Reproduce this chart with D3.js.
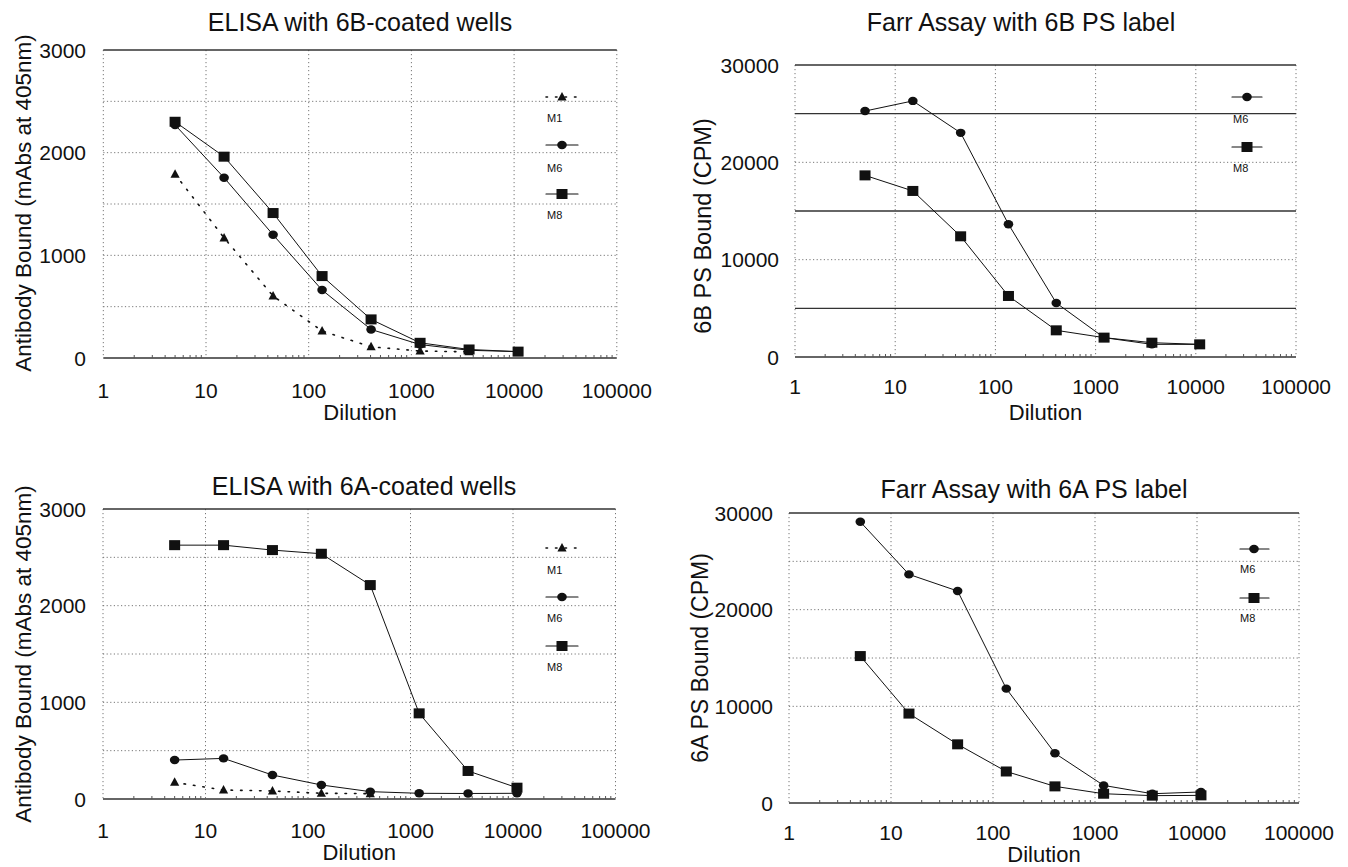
<!DOCTYPE html>
<html><head><meta charset="utf-8">
<script src="https://cdn.jsdelivr.net/npm/d3@7"></script>
<style>
body{margin:0;background:#fff}
svg{display:block}
text{font-family:"Liberation Sans",Arial,Helvetica,sans-serif;fill:#111}
</style>
</head><body>
<svg id="c" width="1348" height="867"></svg>
<script>
// ---- data ----
const dilutions = [5, 15, 45, 135, 405, 1215, 3645, 10935];
const xTickValues = [1, 10, 100, 1000, 10000, 100000];
const xTickLabels = ["1", "10", "100", "1000", "10000", "100000"];
const elisaTicks = [0, 1000, 2000, 3000];
const farrTicks = [0, 10000, 20000, 30000];
const seriesNames = ["M1", "M6", "M8"];

// ELISA with 6B-coated wells (mAbs at 405nm)
const elisa6B_M1 = [1790, 1170, 604, 263, 109, 68, 60, null];
const elisa6B_M6 = [2270, 1756, 1200, 662, 278, 131, 75, 62];
const elisa6B_M8 = [2301, 1961, 1412, 798, 376, 148, 83, 62];
// Farr assay with 6B PS label (CPM)
const farr6B_M6 = [25270, 26310, 23030, 13640, 5550, 1990, 1300, 1300];
const farr6B_M8 = [18660, 17060, 12400, 6270, 2740, 1990, 1470, 1300];
// ELISA with 6A-coated wells
const elisa6A_M1 = [172, 93, 83, 59, 55, null, null, null];
const elisa6A_M6 = [403, 420, 248, 145, 76, 59, 57, 59];
const elisa6A_M8 = [2626, 2626, 2575, 2537, 2213, 886, 290, 117];
// Farr assay with 6A PS label
const farr6A_M6 = [29090, 23650, 21930, 11830, 5140, 1820, 960, 1140];
const farr6A_M8 = [15200, 9250, 6070, 3260, 1720, 960, 760, 790];

const svg = d3.select("#c");

function marker(g, type, x, y) {
  if (type === "tri") {
    g.append("path").attr("d", `M${x},${y-5} L${x+4.6},${y+3.5} L${x-4.6},${y+3.5} Z`).attr("fill", "#111");
  } else if (type === "circ") {
    g.append("ellipse").attr("cx", x).attr("cy", y).attr("rx", 4.8).attr("ry", 4.2).attr("fill", "#111");
  } else {
    g.append("rect").attr("x", x - 5.5).attr("y", y - 5).attr("width", 11).attr("height", 10).attr("fill", "#111");
  }
}

function panel(cfg) {
  const g = svg.append("g");
  const x = d3.scaleLog().domain([1, 100000]).range([cfg.x0, cfg.x1]);
  const y = d3.scaleLinear().domain([0, cfg.yMax]).range([cfg.yBot, cfg.yTop]);

  // dotted horizontal grid
  g.selectAll(null).data(cfg.dottedY).enter().append("line")
    .attr("x1", cfg.x0).attr("x2", cfg.x1)
    .attr("y1", d => y(d)).attr("y2", d => y(d))
    .attr("stroke", "#777").attr("stroke-width", 1).attr("stroke-dasharray", "1.2,2.4");
  // dotted vertical grid
  g.selectAll(null).data(xTickValues).enter().append("line")
    .attr("x1", d => x(d)).attr("x2", d => x(d))
    .attr("y1", cfg.yTop).attr("y2", cfg.yBot)
    .attr("stroke", "#777").attr("stroke-width", 1).attr("stroke-dasharray", "1.2,2.8");
  // solid horizontal lines
  g.selectAll(null).data(cfg.solidY).enter().append("line")
    .attr("x1", cfg.x0).attr("x2", cfg.x1)
    .attr("y1", d => y(d)).attr("y2", d => y(d))
    .attr("stroke", "#333").attr("stroke-width", 1.4);
  // minor log ticks on the baseline
  const minor = [];
  for (let e = 0; e < 5; e++) for (let m = 2; m <= 9; m++) minor.push(m * Math.pow(10, e));
  g.selectAll(null).data(minor).enter().append("line")
    .attr("x1", d => x(d)).attr("x2", d => x(d))
    .attr("y1", cfg.yBot - 3).attr("y2", cfg.yBot)
    .attr("stroke", "#555").attr("stroke-width", 1);

  // y tick labels
  g.selectAll(null).data(cfg.yTicks).enter().append("text")
    .attr("x", cfg.tickRight).attr("y", d => y(d)).attr("dy", "0.36em")
    .attr("text-anchor", "end").attr("font-size", 21).text(d => d);
  // x tick labels
  g.selectAll(null).data(xTickValues).enter().append("text")
    .attr("x", d => x(d)).attr("y", cfg.xLabelBase)
    .attr("text-anchor", "middle").attr("font-size", 21)
    .text((d, i) => xTickLabels[i]);

  // titles
  g.append("text").attr("x", cfg.titleX).attr("y", cfg.titleY)
    .attr("text-anchor", "middle").attr("font-size", 25).text(cfg.title);
  g.append("text").attr("x", (cfg.x0 + cfg.x1) / 2).attr("y", cfg.dilBase)
    .attr("text-anchor", "middle").attr("font-size", 22).text("Dilution");
  g.append("text")
    .attr("transform", `translate(${cfg.yLabX},${cfg.yLabY}) rotate(-90)`)
    .attr("dy", "0.36em").attr("text-anchor", "middle").attr("font-size", cfg.yLabSize)
    .text(cfg.yLabel);

  // series
  cfg.series.forEach(s => {
    const pts = dilutions.map((d, i) => [d, s.values[i]]).filter(p => p[1] != null);
    const line = d3.line().x(p => x(p[0])).y(p => y(p[1]));
    g.append("path").attr("d", line(pts)).attr("fill", "none")
      .attr("stroke", "#111").attr("stroke-width", s.dotted ? 1.6 : 1)
      .attr("stroke-dasharray", s.dotted ? "1.5,8" : null)
      .attr("stroke-linecap", "round");
    pts.forEach(p => marker(g, s.shape, x(p[0]), y(p[1])));
  });

  // legend
  cfg.series.forEach((s, i) => {
    const ly = cfg.leg.y[i];
    g.append("line").attr("x1", cfg.leg.l1).attr("x2", cfg.leg.l2)
      .attr("y1", ly).attr("y2", ly).attr("stroke", "#111")
      .attr("stroke-width", s.dotted ? 1.6 : 1.2)
      .attr("stroke-dasharray", s.dotted ? "1.5,8" : null).attr("stroke-linecap", "round");
    marker(g, s.shape, cfg.leg.x, ly);
    g.append("text").attr("x", cfg.leg.lx).attr("y", cfg.leg.ty[i]).attr("dy", "0.36em")
      .attr("font-size", 11).text(s.name);
  });
}

panel({
  x0: 103.3, x1: 616.8, yTop: 50, yBot: 358, yMax: 3000, yTicks: elisaTicks,
  solidY: [3000, 0], dottedY: [500, 1000, 1500, 2000, 2500],
  tickRight: 86, xLabelBase: 398, dilBase: 420,
  title: "ELISA with 6B-coated wells", titleX: 360, titleY: 31,
  yLabel: "Antibody Bound (mAbs at 405nm)", yLabX: 23, yLabY: 203, yLabSize: 22.5,
  series: [
    {name: seriesNames[0], values: elisa6B_M1, shape: "tri", dotted: true},
    {name: seriesNames[1], values: elisa6B_M6, shape: "circ"},
    {name: seriesNames[2], values: elisa6B_M8, shape: "sq"}
  ],
  leg: {x: 562, l1: 546, l2: 578, lx: 547, y: [97, 145, 194], ty: [118, 168, 215]}
});

panel({
  x0: 795, x1: 1296, yTop: 65, yBot: 357, yMax: 30000, yTicks: farrTicks,
  solidY: [30000, 25000, 15000, 5000, 0], dottedY: [10000, 20000],
  tickRight: 779, xLabelBase: 394, dilBase: 420,
  title: "Farr Assay with 6B PS label", titleX: 1021, titleY: 31,
  yLabel: "6B PS Bound (CPM)", yLabX: 703, yLabY: 226, yLabSize: 23.5,
  series: [
    {name: seriesNames[1], values: farr6B_M6, shape: "circ"},
    {name: seriesNames[2], values: farr6B_M8, shape: "sq"}
  ],
  leg: {x: 1247, l1: 1232, l2: 1262, lx: 1233, y: [97, 147], ty: [119, 168]}
});

panel({
  x0: 103, x1: 615.5, yTop: 509, yBot: 799, yMax: 3000, yTicks: elisaTicks,
  solidY: [3000, 0], dottedY: [500, 1000, 1500, 2000, 2500],
  tickRight: 86, xLabelBase: 838, dilBase: 860,
  title: "ELISA with 6A-coated wells", titleX: 364, titleY: 495,
  yLabel: "Antibody Bound (mAbs at 405nm)", yLabX: 23, yLabY: 654, yLabSize: 22.5,
  series: [
    {name: seriesNames[0], values: elisa6A_M1, shape: "tri", dotted: true},
    {name: seriesNames[1], values: elisa6A_M6, shape: "circ"},
    {name: seriesNames[2], values: elisa6A_M8, shape: "sq"}
  ],
  leg: {x: 562, l1: 546, l2: 578, lx: 547, y: [548, 597, 646], ty: [570, 618, 667]}
});

panel({
  x0: 789, x1: 1299, yTop: 513, yBot: 803, yMax: 30000, yTicks: farrTicks,
  solidY: [30000, 0], dottedY: [10000, 15000, 20000, 25000],
  tickRight: 773, xLabelBase: 840, dilBase: 862,
  title: "Farr Assay with 6A PS label", titleX: 1034, titleY: 498,
  yLabel: "6A PS Bound (CPM)", yLabX: 700, yLabY: 658, yLabSize: 23,
  series: [
    {name: seriesNames[1], values: farr6A_M6, shape: "circ"},
    {name: seriesNames[2], values: farr6A_M8, shape: "sq"}
  ],
  leg: {x: 1254, l1: 1240, l2: 1269, lx: 1240, y: [549, 598], ty: [569, 618]}
});
</script>
</body></html>
